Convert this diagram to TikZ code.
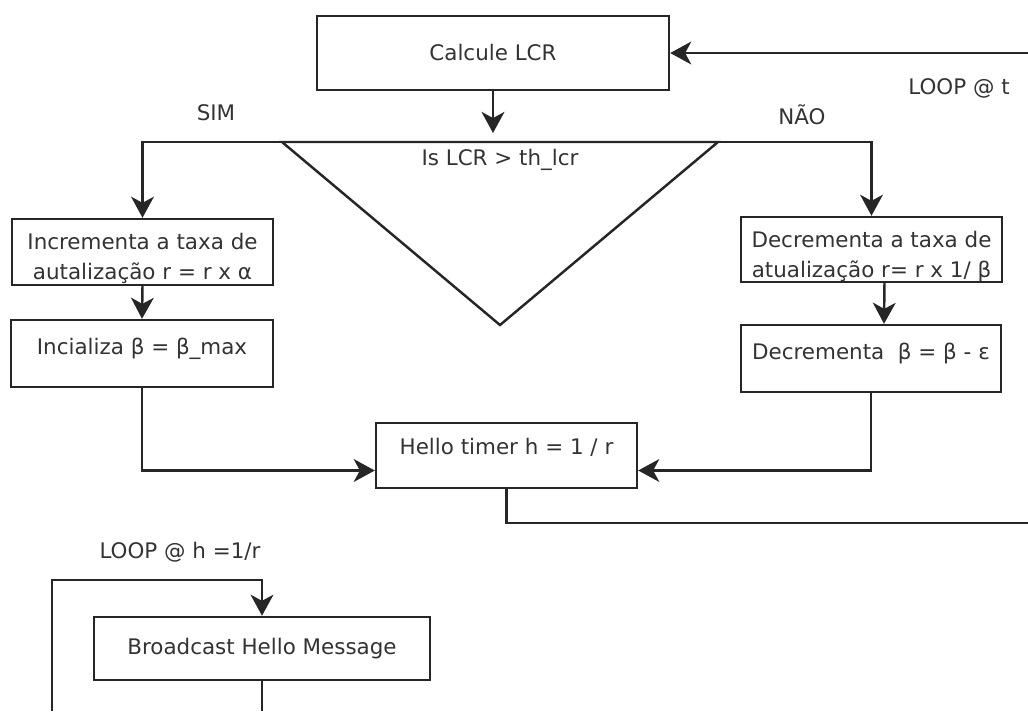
\documentclass[tikz,border=0pt]{standalone}
\usepackage{fontspec}
\setmainfont{DejaVu Sans}
\usetikzlibrary{arrows.meta,positioning,calc}

\begin{document}
\begin{tikzpicture}[
  x=0.02cm, y=-0.02cm,
  font=\fontsize{12.2}{17}\selectfont, >={Stealth[length=12pt,width=13pt,inset=3.5pt]},
  box/.style={draw=black!85, line width=1.4pt, fill=white, align=center,
              text=black!80, inner sep=0pt},
  lbl/.style={text=black!80, inner sep=0pt},
  arr/.style={line width=1.4pt, draw=black!85},
]
\useasboundingbox (0,0) rectangle (1028,711);

\node[box, minimum width=7.04cm, minimum height=1.48cm] (calc) at (493,53) {Calcule LCR};
\node[box, minimum width=5.22cm, minimum height=1.32cm] (incr) at (142.5,252)
  {\rule{0pt}{17pt}Incrementa a taxa de\\autalização r = r x α};
\node[box, minimum width=5.24cm, text height=19.4pt, text depth=18.7pt] (init) at (142,353.5)
  {Incializa β = β\_max};
\node[box, minimum width=5.22cm, minimum height=1.3cm] (decr) at (871.5,249.5)
  {\rule{0pt}{17pt}Decrementa a taxa de\\atualização r= r x 1/ β};
\node[box, minimum width=5.2cm, text height=19.4pt, text depth=18.7pt] (decb) at (871,358.5)
  {Decrementa~~β = β - ε};
\node[box, minimum width=5.22cm, text height=18.2pt, text depth=18.8pt] (hello) at (506.5,455.5)
  {Hello timer h = 1 / r};
\node[box, minimum width=6.72cm, minimum height=1.26cm] (bcast) at (262,648.5)
  {Broadcast Hello Message};

\node[lbl] (cond) at (500,160) {Is LCR > th\_lcr};
\node[lbl] (sim) at (216,113) {SIM};
\node[lbl] (nao) at (802,115) {NÃO};
\node[lbl] (loopt) at (959,88) {LOOP @ t};
\node[lbl] (looph) at (180,552) {LOOP @ h =1/r};

\coordinate (dl) at (282,142);
\coordinate (dr) at (718,142);
\coordinate (dv) at (500,325);
\coordinate (dtop) at (493,133);
\coordinate (hbr) at (1028,523);
\coordinate (ctr) at (1028,53);
\coordinate (blt) at (52,580);
\coordinate (blb) at (52,711);
\coordinate (bsb) at (262,711);

\draw[arr] (dl) -- (dv) -- (dr) -- cycle;
\draw[arr, ->] (calc.south) -- (dtop);
\draw[arr, ->] (dl) -| (incr.north);
\draw[arr, ->] (dr) -| (decr.north);
\draw[arr, ->] (incr.south) -- (init.north);
\draw[arr, ->] ([xshift=0.26cm]decr.south) -- ([xshift=0.26cm]decb.north);
\draw[arr, ->] (init.south) |- ([yshift=-0.3cm]hello.west);
\draw[arr, ->] (decb.south) |- ([yshift=-0.3cm]hello.east);
\draw[arr] (hello.south) |- (hbr);
\draw[arr, ->] (ctr) -- (calc.east);
\draw[arr, ->] (blb) -- (blt) -| (bcast.north);
\draw[arr] (bcast.south) -- (bsb);
\end{tikzpicture}
\end{document}
